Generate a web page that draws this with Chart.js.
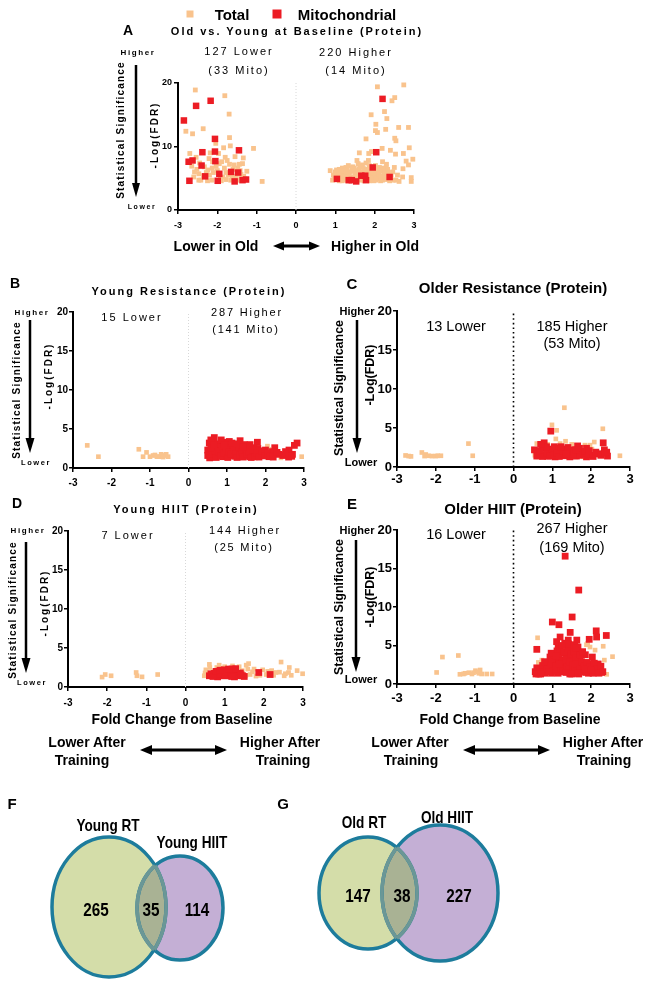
<!DOCTYPE html>
<html><head><meta charset="utf-8">
<script src="https://cdn.jsdelivr.net/npm/chart.js@4.4.0/dist/chart.umd.min.js"></script>
<style>
html,body{margin:0;padding:0;background:#fff}
body{width:652px;height:987px;position:relative;overflow:hidden;font-family:"Liberation Sans",Arial,sans-serif;color:#000}
canvas{position:absolute}
.t{position:absolute;white-space:nowrap;line-height:1;transform:translate(-50%,-50%);z-index:5}
svg{position:absolute;left:0;top:0;z-index:4}
</style></head>
<body>
<script>
// ---------------- DATA ----------------
const xTicks = [-3,-2,-1,0,1,2,3];
const yTicksA = [0,10,20];
const yTicksBE = [0,5,10,15,20];
const legendNames = ['Total','Mitochondrial'];

const aTitle = 'Old vs. Young at Baseline (Protein)';
const aCounts = ['127 Lower','(33 Mito)','220 Higher','(14 Mito)'];
const aTotal = [
 [-2.56,18.9],[-1.81,18.0],[-1.70,15.1],[-2.36,12.8],[-2.80,12.4],[-2.63,12.0],[-1.69,11.4],[-2.04,10.5],
 [-1.84,9.8],[-1.67,10.1],[-1.08,9.7],[-2.70,8.9],[-2.18,9.0],[-1.97,8.9],[-1.80,8.3],[-1.34,8.2],
 [-2.54,8.3],[-2.21,8.1],[-1.89,7.6],[-1.69,7.2],[-1.57,7.1],[-1.44,7.2],[-1.36,7.3],[-2.52,6.4],
 [-2.24,6.3],[-2.13,6.6],[-1.82,6.6],[-1.78,5.9],[-1.25,6.1],[-2.47,5.7],[-2.20,5.5],[-1.52,5.2],
 [-2.47,4.7],[-2.14,4.7],[-1.78,4.8],[-1.66,4.7],[-0.86,4.5],[-1.86,5.2],[-2.42,4.7],[-2.03,6.9],
 [-2.33,6.8],[-1.95,7.3],[-1.60,6.4],[-1.48,6.6],[-2.60,5.2],[-1.40,5.6],[-1.30,4.9],[-2.28,5.9],[-1.92,5.0],
 [-2.58,6.0],[-2.35,5.4],[-2.25,4.6],[-2.10,5.9],[-2.00,6.2],[-1.90,4.6],[-1.72,5.5],[-1.62,5.3],
 [-1.50,4.7],[-1.42,6.2],[-1.33,5.3],[-2.45,7.4],[-2.12,7.6],[-1.75,7.8],[-1.55,8.4],[-2.65,6.9],
 [2.07,19.4],[2.74,19.7],[2.51,17.7],[2.44,17.2],[2.25,15.5],[1.91,15.0],[2.31,14.4],[2.03,13.5],
 [2.61,13.0],[2.86,13.0],[2.02,12.5],[2.07,12.2],[2.28,12.7],[1.78,11.2],[2.51,11.3],[2.54,10.9],
 [2.19,9.7],[2.40,9.4],[2.88,9.8],[1.61,9.0],[1.85,8.9],[1.92,9.2],[2.53,8.8],[2.73,8.9],
 [2.97,8.0],[2.80,7.7],[2.86,7.1],[1.55,7.8],[1.84,7.8],[2.20,7.6],[2.72,6.5],[0.87,6.2],
 [1.10,6.4],[1.27,6.7],[1.44,6.8],[1.69,7.1],[2.12,6.7],[2.29,6.6],[2.50,6.7],[1.19,5.8],
 [1.36,6.0],[1.57,6.2],[1.86,6.0],[2.08,5.8],[2.24,5.5],[2.46,6.0],[2.71,5.2],[2.93,5.1],
 [2.93,4.5],[0.93,4.7],[1.14,5.2],[1.27,4.7],[1.44,5.2],[1.91,5.0],[2.03,4.7],[2.20,4.7],
 [2.54,4.7],[2.62,4.5],[1.23,5.5],[1.52,5.7],[1.69,5.0],[1.99,6.2],[2.15,6.2],
 [1.05,5.5],[1.15,6.0],[1.25,5.1],[1.30,6.3],[1.35,5.6],[1.45,6.1],[1.50,5.4],[1.55,4.9],
 [1.60,6.5],[1.62,5.8],[1.70,6.0],[1.75,5.5],[1.80,4.9],[1.82,6.4],[1.90,5.6],[1.95,5.3],
 [2.00,6.0],[2.05,5.4],[2.10,4.9],[2.12,5.9],[2.18,5.3],[2.25,6.1],[2.30,4.8],[2.35,5.9],
 [1.12,4.8],[1.22,5.3],[1.40,4.8],[1.48,6.6],[1.65,4.7],[1.88,6.8],[1.98,4.6],[2.15,4.6],
 [1.00,6.0],[0.98,5.0],[1.08,5.9],[1.18,6.6],[1.33,7.0],[1.58,7.3],[1.78,7.4],[2.02,7.0],
 [1.03,6.3],[1.10,4.6],[1.20,6.2],[1.28,5.9],[1.37,5.2],[1.42,6.5],[1.47,4.7],[1.53,5.9],
 [1.58,5.2],[1.63,6.8],[1.67,5.3],[1.72,6.5],[1.73,4.6],[1.77,6.2],[1.84,5.3],[1.87,4.6],
 [1.93,6.5],[1.96,5.8],[2.03,5.1],[2.07,6.5],[2.10,5.6],[2.17,4.9],[2.22,6.6],[2.27,5.2],
 [2.33,6.4],[2.38,4.6],[2.42,5.5],[2.47,4.7],[2.58,5.5],[0.95,5.5],[1.17,4.6],[1.32,4.6],
 [1.50,6.0],[1.86,7.0],[2.30,7.2]
];
const aMito = [
 [-2.85,14.1],[-2.54,16.4],[-2.17,17.2],[-2.06,11.2],[-2.38,9.1],[-2.06,9.2],[-1.45,9.4],[-2.73,7.6],
 [-2.63,7.8],[-2.40,7.0],[-2.05,7.7],[-1.95,5.7],[-2.31,5.3],[-1.65,6.0],[-1.47,5.9],[-2.71,4.6],
 [-1.99,4.6],[-1.56,4.5],[-1.36,4.7],[-1.27,4.8],
 [2.20,17.5],[2.04,9.1],[1.95,6.7],[2.38,5.2],[1.04,4.9],[1.34,4.7],[1.53,4.5],[1.66,5.4],
 [1.76,5.4],[1.78,4.7],[1.42,4.7]
];

const bTitle = 'Young Resistance (Protein)';
const bCounts = ['15 Lower','287 Higher','(141 Mito)'];
const bTotal = [
 [-2.63,2.9],[-2.34,1.45],[-1.29,2.4],[-1.09,2.0],[-1.18,1.45],[-0.92,1.6],[-0.82,1.45],[-0.71,1.75],
 [-0.62,1.6],[-0.53,1.45],[-0.77,1.45],[-1.0,1.45],[-0.58,1.75],[-0.87,1.67],[-0.66,1.4],
 [2.94,1.45],[2.09,2.4],[1.92,1.45],[2.27,1.7],[0.55,1.3],[1.70,1.3],[2.40,1.3],[2.05,2.8]
];
const bMito = [
 [0.67,3.9],[0.54,3.2],[0.89,3.3],[1.06,3.4],[1.34,3.5],[1.79,3.3],[2.24,2.6],[2.61,2.3],
 [2.82,3.2],[2.70,1.75],[2.35,1.75],[2.09,1.45],[1.62,2.1],[2.00,2.3],[1.40,2.5],[1.19,2.9],
 [0.72,2.7],[0.50,2.3],[0.50,1.6],[0.63,1.45],[0.80,1.9],[0.97,2.3],[1.15,1.6],[1.28,2.0],
 [1.46,1.6],[1.59,1.45],[1.75,1.75],[1.88,1.6],[0.89,1.45],[1.06,1.75],[1.23,2.5],[1.49,2.9],
 [1.70,2.6],[0.80,2.9],[1.01,3.0],[0.58,3.6],[2.18,2.1],[0.60,2.0],[0.70,1.5],[0.85,2.5],
 [0.95,1.6],[1.10,2.2],[1.20,1.5],[1.35,2.4],[1.50,2.1],[1.65,1.6],[1.80,2.5],[1.95,2.0],
 [0.65,2.6],[0.75,3.1],[1.15,2.8],[1.45,3.0],[1.55,2.6],[2.45,1.6],[2.60,1.4],
 [0.55,1.3],[0.62,1.8],[0.68,2.2],[0.72,1.35],[0.78,2.0],[0.83,1.55],[0.88,2.7],[0.92,1.95],
 [0.98,2.55],[1.02,1.35],[1.05,2.05],[1.10,1.75],[1.13,3.2],[1.18,2.35],[1.22,1.8],[1.26,1.35],
 [1.30,2.7],[1.33,1.7],[1.38,2.05],[1.42,1.4],[1.48,2.4],[1.52,1.75],[1.56,2.0],[1.60,3.0],
 [1.63,1.35],[1.68,2.3],[1.72,1.45],[1.78,1.9],[1.83,1.4],[1.90,2.2],[1.98,1.55],[2.05,1.9],
 [2.12,1.5],[2.20,1.4],[2.30,2.0],[0.58,2.6],[0.66,3.0],[0.85,3.6],[0.93,3.0],[1.27,3.1],
 [1.42,2.7],[2.52,2.1],[2.68,1.5],[2.75,2.9]
];

const cTitle = 'Older Resistance (Protein)';
const cCounts = ['13 Lower','185 Higher','(53 Mito)'];
const cTotal = [
 [-2.78,1.48],[-2.64,1.36],[-2.36,1.86],[-2.29,1.4],[-2.19,1.44],[-2.00,1.4],[-1.87,1.44],[-1.16,3.0],
 [-1.05,1.44],[-2.26,1.6],[-1.95,1.44],[-2.10,1.4],[-2.70,1.4],
 [1.31,7.6],[0.99,5.4],[1.11,4.7],[1.09,3.6],[1.34,3.3],[0.60,3.0],[2.30,4.9],[2.08,3.2],
 [1.97,2.8],[2.74,1.44],[2.18,1.5],[2.10,1.95],[1.84,2.8],[0.73,1.95],[0.55,1.5],[1.50,2.9],[2.25,1.7],
 [0.62,1.3],[1.78,1.3],[2.02,2.3],[0.88,2.9],[1.20,3.0]
];
const cMito = [
 [0.96,4.6],[0.79,3.1],[0.54,2.2],[2.31,3.1],[2.34,2.2],[2.42,1.4],[1.65,2.7],[1.15,2.4],
 [2.00,1.5],[1.88,2.4],[0.64,1.7],[0.81,1.5],[0.98,1.86],[1.24,1.6],[1.41,1.95],[1.58,1.44],
 [1.75,1.7],[1.33,1.44],[1.07,1.3],[0.90,2.2],[1.50,2.2],[1.67,2.0],[2.18,1.7],[0.73,2.4],
 [1.20,1.95],[1.88,1.3],[0.88,1.4],[1.45,1.3],[1.05,2.6],[1.30,2.3],
 [0.60,1.4],[0.68,2.0],[0.75,1.35],[0.85,1.75],[0.93,1.4],[1.00,2.3],[1.03,1.5],[1.12,1.75],
 [1.18,1.35],[1.27,2.05],[1.36,1.7],[1.40,2.5],[1.52,1.6],[1.55,1.9],[1.62,1.4],[1.70,2.4],
 [1.72,1.5],[1.80,1.75],[1.85,2.0],[1.93,1.6],[2.05,1.35],[2.12,1.9],[2.25,1.5],[2.35,1.8],
 [0.85,2.6],[1.22,2.6],[1.60,2.2],[0.70,2.9],[2.40,1.9],[1.95,2.1]
];

const dTitle = 'Young HIIT (Protein)';
const dCounts = ['7 Lower','144 Higher','(25 Mito)'];
const dTotal = [
 [-2.13,1.27],[-2.05,1.6],[-1.90,1.44],[-1.26,1.86],[-1.11,1.3],[-0.71,1.6],[-1.24,1.44],
 [0.61,2.9],[0.52,2.2],[0.95,2.4],[1.61,3.0],[1.59,2.3],[1.37,2.6],[2.44,3.2],[2.65,2.5],
 [2.63,1.86],[2.52,1.44],[2.99,1.7],[2.31,1.86],[2.06,1.6],[1.97,2.2],[1.71,1.95],[1.54,1.5],
 [0.48,1.44],[0.70,1.95],[1.20,2.7],[0.86,2.8],[2.20,2.1],[1.80,1.4],
 [0.55,1.6],[0.62,2.5],[0.80,2.5],[1.00,2.6],[1.30,2.4],[1.45,2.1],[1.65,1.6],[1.75,2.3],
 [1.90,1.5],[2.10,2.0],[2.25,1.5],[2.40,1.9],[2.55,1.7],[2.70,1.5],[2.85,2.1],[1.55,2.8],[0.50,1.8]
];
const dMito = [
 [0.61,1.44],[0.74,1.74],[0.86,1.95],[0.99,2.2],[1.19,2.3],[1.29,1.74],[1.46,1.44],[1.87,1.86],
 [2.16,1.6],[1.12,1.44],[0.95,1.44],[0.82,1.3],[1.37,1.6],[1.08,1.74],[1.25,1.3],
 [0.65,1.7],[0.70,1.35],[0.78,2.0],[0.90,1.6],[1.00,1.45],[1.03,1.9],[1.15,1.7],[1.22,2.05],
 [1.32,1.45],[1.40,1.8],[1.50,1.35],[1.18,1.35],[0.88,2.15],[1.10,2.3],[1.28,2.35],[1.42,1.55]
];

const eTitle = 'Older HIIT (Protein)';
const eCounts = ['16 Lower','267 Higher','(169 Mito)'];
const eTotal = [
 [-1.98,1.5],[-1.83,3.5],[-1.42,3.7],[-1.38,1.26],[-1.25,1.39],[-1.15,1.47],[-1.07,1.3],[-0.98,1.73],
 [-0.86,1.82],[-0.89,1.39],[-0.69,1.3],[-0.55,1.3],[-1.29,1.3],[-1.03,1.47],[-0.92,1.56],[-0.82,1.3],
 [0.62,6.0],[2.55,3.55],[2.31,4.9],[1.91,5.3],[1.97,4.8],[2.34,3.1],[2.40,1.26],[0.64,2.8],
 [0.73,3.1],[2.10,4.4],[1.88,5.1]
];
const eMito = [
 [1.33,16.6],[1.68,12.2],[1.00,8.05],[1.17,7.7],[1.51,8.7],[1.46,6.7],[2.13,6.9],[2.14,6.1],
 [2.39,6.3],[1.95,5.8],[1.20,6.1],[0.60,4.5],[1.15,4.8],[1.58,5.1],[1.85,3.8],[2.03,3.5],
 [2.18,2.6],[2.27,1.5],[0.94,3.5],[0.56,1.6],[0.73,1.8],[0.90,2.25],[1.07,3.1],[1.24,4.0],
 [1.33,2.7],[1.50,3.5],[1.63,4.4],[1.76,2.25],[1.93,1.4],[2.10,1.8],[1.15,1.4],[1.41,1.6],
 [1.58,1.4],[0.98,1.4],[0.81,1.4],[1.32,5.3],[1.49,4.6],[1.11,5.5],[1.24,2.25],[1.03,2.0],
 [1.71,3.1],[1.80,1.6],[1.54,2.25],[1.37,3.8],[1.20,3.1],[1.63,5.7],[1.41,5.7],[0.65,1.3],
 [1.45,1.3],[1.68,1.3],[2.00,2.6],[1.10,2.6],
 [0.60,2.1],[0.68,1.6],[0.75,2.4],[0.85,1.9],[0.88,2.8],[0.95,2.5],[1.00,3.2],[1.02,1.7],
 [1.05,3.8],[1.08,2.3],[1.12,4.3],[1.13,1.9],[1.17,3.4],[1.20,4.6],[1.22,2.0],[1.25,3.0],
 [1.28,1.6],[1.30,4.2],[1.35,3.3],[1.38,2.2],[1.40,4.6],[1.43,1.8],[1.45,2.9],[1.48,3.9],
 [1.52,2.5],[1.55,4.2],[1.57,1.8],[1.60,3.4],[1.62,2.6],[1.66,4.8],[1.70,1.9],[1.72,3.8],
 [1.75,2.9],[1.78,4.2],[1.82,2.3],[1.86,1.5],[1.90,2.8],[1.97,2.2],[2.05,1.4],[2.08,2.7],
 [2.15,2.0],[2.20,1.4],[2.25,2.3],[2.30,1.6],[0.58,1.3],[0.70,1.3],[0.92,1.6],[1.18,2.6],
 [1.35,1.5],[1.50,1.3],[1.65,1.4],[1.85,1.9],[2.00,1.8],[0.80,2.9],[0.97,4.0],[1.10,3.6],
 [1.25,5.0],[1.42,5.2],[1.55,5.0],[1.60,4.7]
];

const fNames = ['Young RT','Young HIIT'];
const fCounts = [265,35,114];
const gNames = ['Old RT','Old HIIT'];
const gCounts = [147,38,227];
const xAxisTitle = 'Fold Change from Baseline';

// ---------------- STYLE / LAYOUT ----------------
const ORANGE = '#f9c38d', RED = '#ec1c24';
const FONT = '"Liberation Sans", Arial, sans-serif';

function T(txt, x, y, st){
  const d = document.createElement('div');
  d.className = 't'; d.textContent = txt;
  d.style.left = x + 'px'; d.style.top = y + 'px';
  d.style.cssText += ';' + (st || '');
  document.body.appendChild(d); return d;
}
const pts = a => a.map(p => ({x:p[0], y:p[1]}));

function scatterPanel(plot, tot, mito, yTicks, o){
  const padL = 60, padT = 15, padR = 15, axH = 40;
  const cv = document.createElement('canvas');
  const W = plot.r - plot.l + padL + padR, H = plot.b - plot.t + padT + axH;
  cv.width = W; cv.height = H;
  cv.style.left = (plot.l - padL) + 'px'; cv.style.top = (plot.t - padT) + 'px';
  document.body.appendChild(cv);
  const tickFont = {family: FONT, size: o.tf, weight: 'bold'};
  const grid = {display:true, drawOnChartArea:false, drawTicks:true, tickLength:4, color:'#000', lineWidth:1.5};
  new Chart(cv, {
    type:'scatter',
    data:{datasets:[
      {label:legendNames[1], data:pts(mito), pointStyle:'rect', pointRadius:o.mr, backgroundColor:RED, borderWidth:0, order:0, clip:false},
      {label:legendNames[0], data:pts(tot), pointStyle:'rect', pointRadius:o.tr, backgroundColor:ORANGE, borderWidth:0, order:1, clip:false},
      {label:'zero', data:[{x:0,y:0},{x:0,y:20}], showLine:true, borderColor:o.zc, borderWidth:o.zw, borderDash:o.zd, pointRadius:0, order:2}
    ]},
    options:{
      responsive:false, animation:false, devicePixelRatio:1, events:[],
      layout:{padding:{left:0, top:padT, right:padR, bottom:0}},
      plugins:{legend:{display:false}, tooltip:{enabled:false}},
      scales:{
        x:{type:'linear', min:-3, max:3,
           afterBuildTicks: s => { s.ticks = xTicks.map(v => ({value:v})); },
           afterFit: s => { s.height = axH; },
           ticks:{font:tickFont, color:'#000', padding:o.xp, autoSkip:false, maxRotation:0},
           grid:grid, border:{display:true, color:'#000', width:2}},
        y:{type:'linear', min:0, max:20,
           afterBuildTicks: s => { s.ticks = yTicks.map(v => ({value:v})); },
           afterFit: s => { s.width = padL; },
           ticks:{font:tickFont, color:'#000', padding:o.yp, autoSkip:false},
           grid:grid, border:{display:true, color:'#000', width:2}}
      }
    }
  });
}

// Venn plugin: draws the two sets' ellipses through the chart's scales
const vennPlugin = {
  id:'venn',
  afterDatasetsDraw(chart){
    const cfg = chart.options.plugins.venn; if (!cfg) return;
    const xs = chart.scales.x, ys = chart.scales.y, ctx = chart.ctx;
    const E = cfg.sets.map(s => {
      const cx = xs.getPixelForValue(s.cx), cy = ys.getPixelForValue(s.cy);
      return {cx, cy, rx: Math.abs(xs.getPixelForValue(s.cx + s.rx) - cx), ry: Math.abs(ys.getPixelForValue(s.cy + s.ry) - cy), fill:s.fill};
    });
    const path = e => { ctx.beginPath(); ctx.ellipse(e.cx, e.cy, e.rx, e.ry, 0, 0, Math.PI*2); };
    ctx.save();
    E.forEach(e => { path(e); ctx.fillStyle = e.fill; ctx.fill(); });
    ctx.save(); path(E[0]); ctx.clip(); path(E[1]); ctx.fillStyle = cfg.overlap; ctx.fill(); ctx.restore();
    ctx.lineWidth = cfg.lw; ctx.strokeStyle = cfg.stroke;
    E.forEach(e => { path(e); ctx.stroke(); });
    ctx.save(); path(E[0]); ctx.clip(); path(E[1]); ctx.strokeStyle = cfg.inner; ctx.stroke(); ctx.restore();
    ctx.save(); path(E[1]); ctx.clip(); path(E[0]); ctx.strokeStyle = cfg.inner; ctx.stroke(); ctx.restore();
    ctx.restore();
  }
};

function vennPanel(box, sets){
  const cv = document.createElement('canvas');
  cv.width = box.w; cv.height = box.h;
  cv.style.left = box.x + 'px'; cv.style.top = box.y + 'px';
  document.body.appendChild(cv);
  const local = sets.map(s => ({cx:s.cx - box.x, cy:s.cy - box.y, rx:s.rx, ry:s.ry, fill:s.fill}));
  new Chart(cv, {
    type:'scatter',
    data:{datasets:[{data:local.map(s => ({x:s.cx, y:s.cy})), pointRadius:0}]},
    options:{
      responsive:false, animation:false, devicePixelRatio:1, events:[],
      layout:{padding:0},
      plugins:{legend:{display:false}, tooltip:{enabled:false},
        venn:{sets:local, overlap:'#a9b294', stroke:'#1d7c9c', inner:'#6b9796', lw:3.5}},
      scales:{x:{type:'linear', min:0, max:box.w, display:false},
              y:{type:'linear', min:0, max:box.h, reverse:true, display:false}}
    },
    plugins:[vennPlugin]
  });
}

// ---------------- CHARTS ----------------
const faint = {zc:'#d8d8d8', zw:1, zd:[1,2]};
const dark = {zc:'#000', zw:1.6, zd:[1.6,3]};
scatterPanel({l:178, t:83, r:414, b:210}, aTotal, aMito, yTicksA, Object.assign({tf:9, xp:6, yp:2, mr:4.6, tr:3.4}, faint));
scatterPanel({l:73, t:312, r:304, b:468}, bTotal, bMito, yTicksBE, Object.assign({tf:10, xp:5, yp:1, mr:4.8, tr:3.3}, faint));
scatterPanel({l:397, t:311, r:630, b:467}, cTotal, cMito, yTicksBE, Object.assign({tf:13, xp:1, yp:1, mr:4.8, tr:3.3}, dark));
scatterPanel({l:68, t:531, r:303, b:687}, dTotal, dMito, yTicksBE, Object.assign({tf:10, xp:6, yp:1, mr:4.8, tr:3.3}, faint));
scatterPanel({l:397, t:530, r:630, b:684}, eTotal, eMito, yTicksBE, Object.assign({tf:13, xp:3, yp:1, mr:4.8, tr:3.3}, dark));

const GREEN = '#d4dda9', PURPLE = '#c4afd5';
vennPanel({x:0, y:790, w:300, h:197}, [
  {cx:109, cy:907, rx:57, ry:70, fill:GREEN},
  {cx:180, cy:908, rx:43, ry:52, fill:PURPLE}]);
vennPanel({x:300, y:790, w:352, h:197}, [
  {cx:368, cy:893, rx:49, ry:56, fill:GREEN},
  {cx:440, cy:893, rx:58, ry:68, fill:PURPLE}]);

// ---------------- TEXT ----------------
const sp = 'letter-spacing:2px;';
const bold = 'font-weight:bold;';
T(legendNames[0], 232, 14, bold + 'font-size:15px;');
T(legendNames[1], 347, 14, bold + 'font-size:15px;');
// panel A
T('A', 128, 30, bold + 'font-size:14px;');
T(aTitle, 297, 31, bold + 'font-size:11px;' + sp);
T(aCounts[0], 239, 51, 'font-size:11px;' + sp);
T(aCounts[1], 239, 70, 'font-size:11px;' + sp);
T(aCounts[2], 356, 52, 'font-size:11px;' + sp);
T(aCounts[3], 356, 70, 'font-size:11px;' + sp);
T('Higher', 138, 53, bold + 'font-size:8px;letter-spacing:1.6px;');
T('Lower', 142, 206, bold + 'font-size:7px;letter-spacing:1.6px;');
T('Statistical Significance', 121, 130, bold + 'font-size:10px;letter-spacing:1.2px;transform:translate(-50%,-50%) rotate(-90deg);');
T('-Log(FDR)', 155, 135, bold + 'font-size:10px;letter-spacing:2px;transform:translate(-50%,-50%) rotate(-90deg);');
T('Lower in Old', 216, 246, bold + 'font-size:14px;');
T('Higher in Old', 375, 246, bold + 'font-size:14px;');

// panel B
T('B', 15, 283, bold + 'font-size:14px;');
T(bTitle, 189, 291, bold + 'font-size:11px;' + sp);
T(bCounts[0], 132, 317, 'font-size:11px;' + sp);
T(bCounts[1], 247, 312, 'font-size:11px;letter-spacing:1.8px;');
T(bCounts[2], 246, 329, 'font-size:11px;letter-spacing:1.8px;');
// panel D
T('D', 17, 503, bold + 'font-size:14px;');
T(dTitle, 186, 509, bold + 'font-size:11px;' + sp);
T(dCounts[0], 128, 535, 'font-size:11px;' + sp);
T(dCounts[1], 245, 530, 'font-size:11px;letter-spacing:1.8px;');
T(dCounts[2], 244, 547, 'font-size:11px;letter-spacing:1.8px;');
[[313,463,390,376,32],[531,683,610,603,28]].forEach(([hy,ly,sy,fy,ax]) => {
  T('Higher', ax, hy, bold + 'font-size:8px;letter-spacing:1.6px;');
  T('Lower', ax + 4, ly, bold + 'font-size:7.5px;letter-spacing:1.6px;');
  T('Statistical Significance', ax - 15, sy, bold + 'font-size:10px;letter-spacing:1.2px;transform:translate(-50%,-50%) rotate(-90deg);');
  T('-Log(FDR)', ax + 17, fy, bold + 'font-size:10px;letter-spacing:2px;transform:translate(-50%,-50%) rotate(-90deg);');
});
// panel C
T('C', 352, 283, bold + 'font-size:15px;');
T(cTitle, 513, 287, bold + 'font-size:15px;');
T(cCounts[0], 456, 326, 'font-size:14.5px;');
T(cCounts[1], 572, 326, 'font-size:14.5px;');
T(cCounts[2], 572, 343, 'font-size:14.5px;');
// panel E
T('E', 352, 503, bold + 'font-size:15px;');
T(eTitle, 513, 508, bold + 'font-size:15px;');
T(eCounts[0], 456, 534, 'font-size:14.5px;');
T(eCounts[1], 572, 528, 'font-size:14.5px;');
T(eCounts[2], 572, 547, 'font-size:14.5px;');
[[311,462,388,375],[530,679,607,597]].forEach(([hy,ly,sy,fy]) => {
  T('Higher', 357, hy, bold + 'font-size:11px;');
  T('Lower', 361, ly, bold + 'font-size:11px;');
  T('Statistical Significance', 339, sy, bold + 'font-size:12.5px;transform:translate(-50%,-50%) rotate(-90deg);');
  T('-Log(FDR)', 370, fy, bold + 'font-size:12.5px;transform:translate(-50%,-50%) rotate(-90deg);');
});
T(xAxisTitle, 182, 719, bold + 'font-size:14px;');
T(xAxisTitle, 510, 719, bold + 'font-size:14px;');
[[87,82,280,283],[410,411,603,604]].forEach(([l1,l2,h1,h2]) => {
  T('Lower After', l1, 742, bold + 'font-size:14px;');
  T('Training', l2, 760, bold + 'font-size:14px;');
  T('Higher After', h1, 742, bold + 'font-size:14px;');
  T('Training', h2, 760, bold + 'font-size:14px;');
});
const vl = bold + 'font-size:17px;transform:translate(-50%,-50%) scaleX(0.8);';
const vn = bold + 'font-size:18px;transform:translate(-50%,-50%) scaleX(0.85);';
T('F', 12, 803, bold + 'font-size:15px;');
T('G', 283, 803, bold + 'font-size:15px;');
T(fNames[0], 108, 825, vl); T(fNames[1], 192, 842, vl);
T(String(fCounts[0]), 96, 910, vn); T(String(fCounts[1]), 151, 910, vn); T(String(fCounts[2]), 197, 910, vn);
T(gNames[0], 364, 822, vl); T(gNames[1], 447, 817, vl);
T(String(gCounts[0]), 358, 896, vn); T(String(gCounts[1]), 402, 896, vn); T(String(gCounts[2]), 459, 896, vn);

// ---------------- ARROWS & LEGEND MARKERS (SVG) ----------------
const NS = 'http://www.w3.org/2000/svg';
const svg = document.createElementNS(NS, 'svg');
svg.setAttribute('width', 652); svg.setAttribute('height', 987);
document.body.appendChild(svg);
function el(tag, attrs){ const e = document.createElementNS(NS, tag); for (const k in attrs) e.setAttribute(k, attrs[k]); svg.appendChild(e); return e; }
function vArrow(x, y1, y2, w, hl, lw){
  el('line', {x1:x, y1:y1, x2:x, y2:y2 - hl + 1, stroke:'#000', 'stroke-width':lw});
  el('polygon', {points:`${x-w/2},${y2-hl} ${x+w/2},${y2-hl} ${x},${y2}`, fill:'#000'});
}
function hArrow(x1, x2, y, w, hl, lw){
  el('line', {x1:x1 + hl - 1, y1:y, x2:x2 - hl + 1, y2:y, stroke:'#000', 'stroke-width':lw});
  el('polygon', {points:`${x1},${y} ${x1+hl},${y-w/2} ${x1+hl},${y+w/2}`, fill:'#000'});
  el('polygon', {points:`${x2},${y} ${x2-hl},${y-w/2} ${x2-hl},${y+w/2}`, fill:'#000'});
}
vArrow(136, 65, 197, 8, 14, 2.5);
vArrow(30, 320, 453, 9, 15, 2.5);
vArrow(26, 542, 673, 9, 15, 2.5);
vArrow(357, 320, 453, 9, 15, 2.5);
vArrow(356, 540, 672, 9, 15, 2.5);
hArrow(273, 320, 246, 9, 11, 3);
hArrow(140, 227, 750, 10, 12, 3);
hArrow(463, 550, 750, 10, 12, 3);
el('rect', {x:186.5, y:10.5, width:7, height:7, fill:ORANGE});
el('rect', {x:272.5, y:9.5, width:9, height:9, fill:RED});
</script>
</body></html>
